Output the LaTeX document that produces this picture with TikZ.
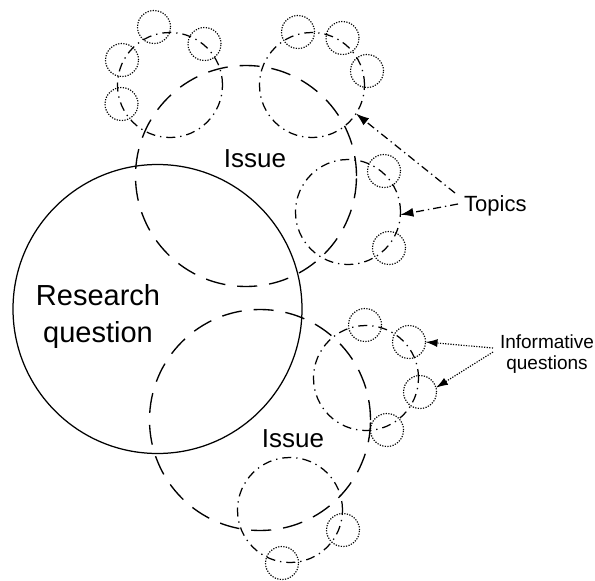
\documentclass[tikz,border=0pt]{standalone}
\usepackage{fontspec}
\setmainfont{Liberation Sans}
\usetikzlibrary{arrows.meta}
\begin{document}
\begin{tikzpicture}[x=1pt,y=-1pt,
  ring/.style={circle,draw,inner sep=0pt,outer sep=0pt},
  rqc/.style={ring,line width=1.25pt,minimum size=289pt},
  issuec/.style={ring,line width=1.35pt,dash pattern=on 20pt off 12pt,minimum size=221pt},
  topicc/.style={ring,line width=1.25pt,dash pattern=on 9pt off 5pt on 1.3pt off 5pt,minimum size=105pt},
  qc/.style={ring,line width=1.15pt,dash pattern=on 1.2pt off 1.4pt,minimum size=33pt},
  topicarrow/.style={line width=1.25pt,dash pattern=on 8pt off 4pt on 1.3pt off 4pt,-{Latex[length=13pt,width=9pt]}},
  qarrow/.style={line width=1.15pt,dash pattern=on 1.2pt off 1.4pt,-{Latex[length=12pt,width=8pt]}},
  bigtxt/.style={font=\fontsize{29}{37}\selectfont,align=center,inner sep=0pt},
  issuetxt/.style={font=\fontsize{26}{30}\selectfont,anchor=base,inner sep=0pt},
  toptxt/.style={font=\fontsize{22}{26}\selectfont,anchor=base west,inner sep=0pt},
  inftxt/.style={font=\fontsize{19}{21}\selectfont,align=center,inner sep=0pt}
]
\useasboundingbox (0,0) rectangle (595,581);

% research question
\node[rqc] (rq) at (157.5,309) {};
\node[bigtxt] (rqt) at (98,316.7) {Research\\question};

% issues
\node[issuec] (is1) at (246,176) {};
\node[issuec] (is2) at (260,420) {};
\node[issuetxt] (iss1) at (255,167.7) {Issue};
\node[issuetxt] (iss2) at (293,447.7) {Issue};

% topics
\node[topicc] (tp1) at (170,85) {};
\node[topicc] (tp2) at (312,85) {};
\node[topicc] (tp3) at (348,212) {};
\node[topicc] (tp4) at (366,378) {};
\node[topicc] (tp5) at (290,510) {};

% informative questions
\node[qc] (s11) at (154,27) {};
\node[qc] (s12) at (122,60) {};
\node[qc] (s13) at (121.5,104) {};
\node[qc] (s14) at (204.5,44) {};
\node[qc] (s21) at (298,32) {};
\node[qc] (s22) at (342.5,38) {};
\node[qc] (s23) at (367,71) {};
\node[qc] (s31) at (384,171) {};
\node[qc] (s32) at (389,248) {};
\node[qc] (s41) at (365,325) {};
\node[qc] (s42) at (409,342) {};
\node[qc] (s43) at (420,392) {};
\node[qc] (s44) at (387,430) {};
\node[qc] (s51) at (343,530) {};
\node[qc] (s52) at (282,563) {};

% labels
\node[toptxt] (top) at (464,211) {Topics};
\node[inftxt] (inf) at (547,354.5) {Informative\\questions};

\coordinate (ta) at (455,193);
\coordinate (tb) at (458,204);
\coordinate (ia) at (493,348);
\coordinate (ib) at (493,352);

\draw[topicarrow] (ta) -- (tp2.-33);
\draw[topicarrow] (tb) -- (tp3.-3);
\draw[qarrow] (ia) -- (s42.east);
\draw[qarrow] (ib) -- (s43.15);
\end{tikzpicture}
\end{document}
